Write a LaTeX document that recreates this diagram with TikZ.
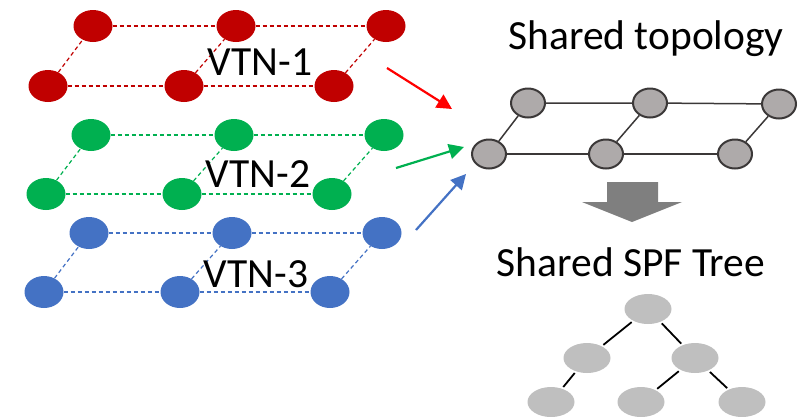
\documentclass[tikz,border=0pt]{standalone}
\usepackage{fontspec}
\setmainfont{Carlito}
\usepackage{tikz}
\usetikzlibrary{arrows.meta, shapes.geometric}

\definecolor{vtnred}{HTML}{C00000}
\definecolor{vtngreen}{HTML}{00B050}
\definecolor{vtnblue}{HTML}{4472C4}
\definecolor{topofill}{HTML}{AEAAAA}
\definecolor{topodraw}{HTML}{3B3838}
\definecolor{treefill}{HTML}{BFBFBF}
\definecolor{bigarrow}{HTML}{7F7F7F}

\begin{document}
\begin{tikzpicture}[
    x=1pt, y=-1pt,
    every node/.style={font=\fontsize{41.5}{45}\selectfont},
    vnode/.style={ellipse, fill=#1, inner sep=0pt, minimum width=39pt, minimum height=32pt},
    vlink/.style={draw=#1, line width=1.2pt, dash pattern=on 4pt off 3pt},
    tnode/.style={ellipse, fill=topofill, draw=topodraw, line width=2pt, inner sep=0pt, minimum width=34pt, minimum height=29pt},
    tlink/.style={draw=topodraw, line width=1.5pt},
    snode/.style={ellipse, fill=treefill, inner sep=0pt, minimum width=47pt, minimum height=30pt},
    slink/.style={draw=black, line width=1.8pt, shorten <=2pt, shorten >=2pt},
    arr/.style={-{Triangle[length=15pt, width=15pt]}, line width=2.2pt, draw=#1},
]
    \useasboundingbox (0,0) rectangle (805,416);

    % --- the three VTN layers (top row, bottom row, label) ---
    \foreach \lay/\col/\dx/\yt/\yb/\yl in {1/vtnred/0/26/86/75, 2/vtngreen/-2/135/194/187, 3/vtnblue/-4/233/292/287} {
        \node[vnode=\col] (t\lay a) at ( 93+\dx, \yt) {};
        \node[vnode=\col] (t\lay b) at (236+\dx, \yt) {};
        \node[vnode=\col] (t\lay c) at (386+\dx, \yt) {};
        \node[vnode=\col] (b\lay a) at ( 48+\dx, \yb) {};
        \node[vnode=\col] (b\lay b) at (184+\dx, \yb) {};
        \node[vnode=\col] (b\lay c) at (334+\dx, \yb) {};
        \draw[vlink=\col] (t\lay a) -- (t\lay b) -- (t\lay c);
        \draw[vlink=\col] (b\lay a) -- (b\lay b) -- (b\lay c);
        \draw[vlink=\col] (b\lay a) -- (t\lay a);
        \draw[vlink=\col] (b\lay b) -- (t\lay b);
        \draw[vlink=\col] (b\lay c) -- (t\lay c);
        \node[anchor=base, inner sep=0pt] (lab\lay) at (260+\dx, \yl) {VTN-\lay};
    }

    % --- shared topology ---
    \node[anchor=base, inner sep=0pt] (topotitle) at (646, 49) {Shared topology};
    \node[tnode] (ta) at (528, 103) {};
    \node[tnode] (tb) at (650, 103) {};
    \node[tnode] (tc) at (779, 104) {};
    \node[tnode] (ba) at (489, 154) {};
    \node[tnode] (bb) at (606, 154) {};
    \node[tnode] (bc) at (735, 154) {};
    \draw[tlink] (ta) -- (tb) -- (tc);
    \draw[tlink] (ba) -- (bb) -- (bc);
    \draw[tlink] (ba) -- (ta);
    \draw[tlink] (bb) -- (tb);
    \draw[tlink] (bc) -- (tc);

    % arrows from the VTNs into the shared topology
    \coordinate (r0) at (387, 68);  \coordinate (r1) at (452, 109);
    \coordinate (g0) at (396, 168); \coordinate (g1) at (464, 147);
    \coordinate (u0) at (416, 230); \coordinate (u1) at (466, 174);
    \draw[arr={red}] (r0) -- (r1);
    \draw[arr=vtngreen] (g0) -- (g1);
    \draw[arr=vtnblue] (u0) -- (u1);

    % big down arrow
    \fill[bigarrow] (607,182) -- (658,182) -- (658,202) -- (682,202) -- (632,222)
        -- (582,202) -- (607,202) -- cycle;

    % --- shared SPF tree ---
    \node[anchor=base, inner sep=0pt] (spftitle) at (631, 276) {Shared SPF Tree};
    \node[snode] (root) at (648, 309) {};
    \node[snode] (sl) at (587, 358) {};
    \node[snode] (sr) at (695, 358) {};
    \node[snode] (l1) at (551, 402) {};
    \node[snode] (l2) at (641, 402) {};
    \node[snode] (l3) at (742, 402) {};
    \draw[slink] (root) -- (sl);
    \draw[slink] (root) -- (sr);
    \draw[slink] (sl) -- (l1);
    \draw[slink] (sr) -- (l2);
    \draw[slink] (sr) -- (l3);
\end{tikzpicture}
\end{document}
